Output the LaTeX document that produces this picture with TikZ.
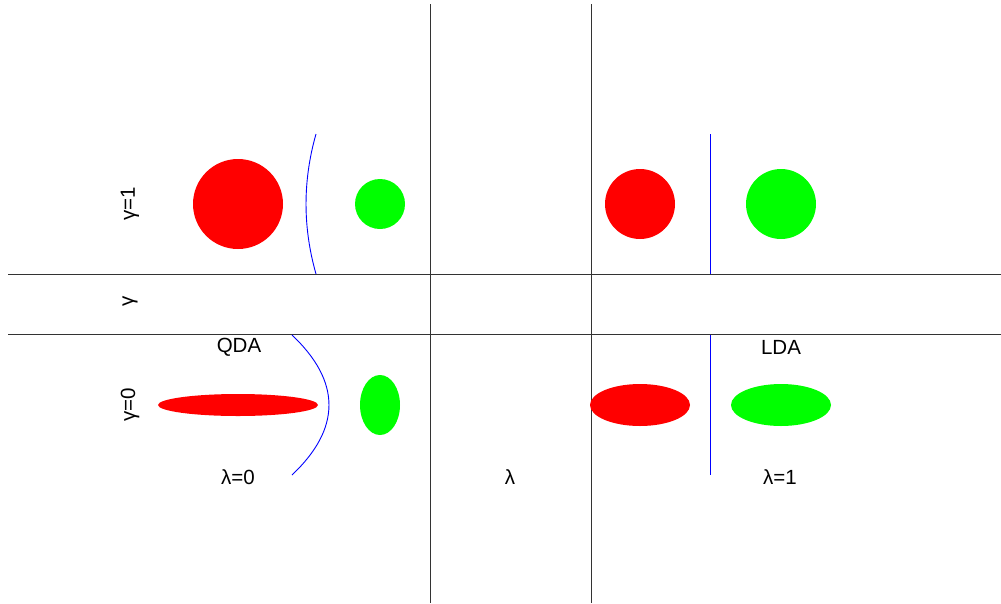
\documentclass[tikz,border=0pt]{standalone}
\usepackage{fontspec}
\setmainfont{Liberation Sans}
\begin{document}
\begin{tikzpicture}[x=1pt,y=-1pt,
  grid/.style={draw=black!80,line width=0.9pt},
  bound/.style={draw=blue,line width=0.9pt},
  lbl/.style={font=\fontsize{20.5}{24}\selectfont,inner sep=0pt},
  vlbl/.style={lbl,rotate=90}]
\useasboundingbox (0,0) rectangle (1001,603);

% grid separating the four panels
\draw[grid] (8,274) -- (1001,274);
\draw[grid] (8,334) -- (1001,334);
\draw[grid] (430,4) -- (430,603);
\draw[grid] (591,4) -- (591,603);

% gamma = 1, lambda = 0: spherical classes, quadratic boundary
\fill[red] (238,204) circle[radius=45];
\fill[green] (380,204) circle[radius=25];
\draw[bound] (316,134) .. controls (302.7,180.7) and (302.7,227.3) .. (316,274);

% gamma = 1, lambda = 1: equal spheres, linear boundary
\fill[red] (640,204) circle[radius=35];
\fill[green] (781,204) circle[radius=35];
\draw[bound] (710,134) -- (710,274);

% gamma = 0, lambda = 0: general covariances, quadratic boundary
\fill[red] (238,405) ellipse[x radius=80,y radius=11];
\fill[green] (380,405) ellipse[x radius=20,y radius=30];
\draw[bound] (292,335) .. controls (341.3,381.7) and (341.3,428.3) .. (292,475);

% gamma = 0, lambda = 1: pooled covariance, linear boundary
\fill[red] (640,405) ellipse[x radius=50,y radius=21];
\fill[green] (781,405) ellipse[x radius=50,y radius=21];
\draw[bound] (710,335) -- (710,475);

% axis labels
\node[vlbl] (g1) at (130,204) {γ=1};
\node[vlbl] (g)  at (130,301) {γ};
\node[vlbl] (g0) at (130,405) {γ=0};
\node[lbl] (qda) at (239,347) {QDA};
\node[lbl] (lda) at (781,347) {LDA};
\node[lbl] (l0) at (238,477) {λ=0};
\node[lbl] (l)  at (510,477) {λ};
\node[lbl] (l1) at (780,477) {λ=1};
\end{tikzpicture}
\end{document}
